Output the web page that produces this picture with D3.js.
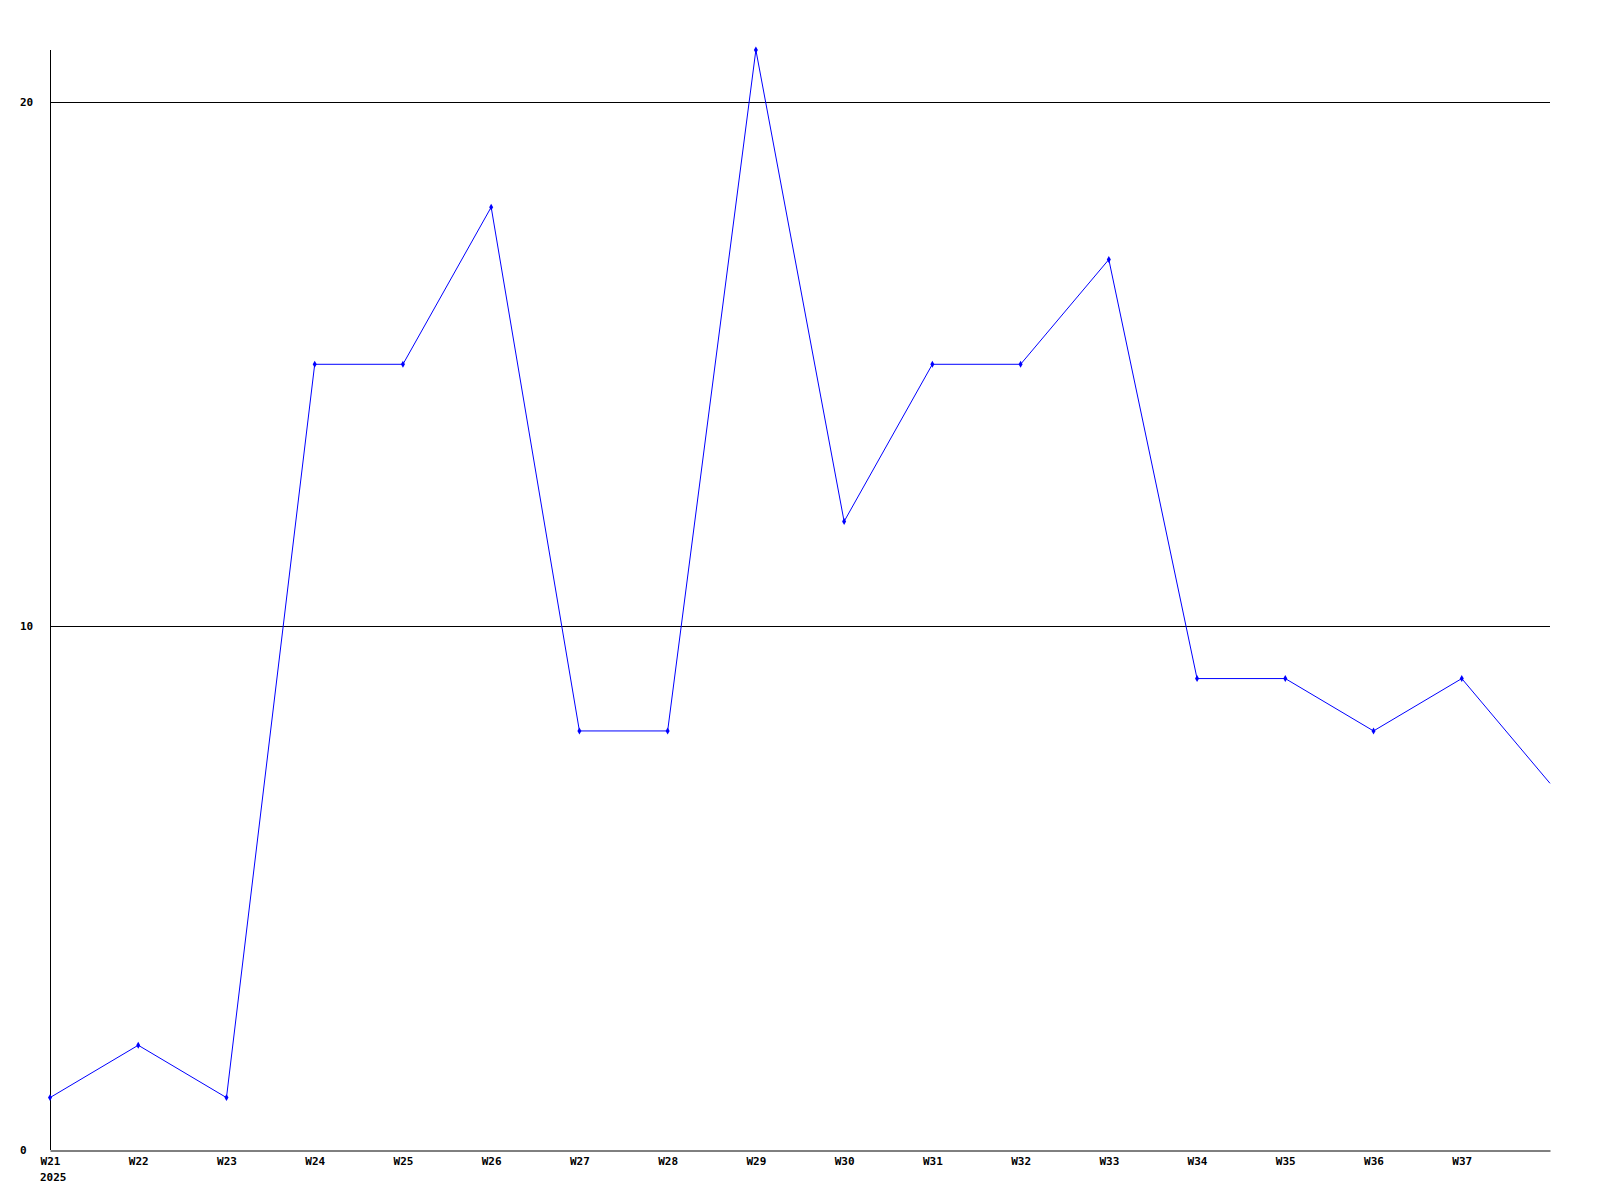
<!DOCTYPE html>
<html>
<head>
<meta charset="utf-8">
<script src="https://cdn.jsdelivr.net/npm/d3@7"></script>
<style>
body { margin: 0; background: #fff; }
text { font-family: "DejaVu Sans Mono", monospace; font-weight: bold; font-size: 11px; }
</style>
</head>
<body>
<script>
const width = 1600;
const height = 1200;
const margin = {top: 50, right: 50, bottom: 50, left: 50};

// weeks, W38 is drawn but not labelled
const weeks = ['W21', 'W22', 'W23', 'W24', 'W25', 'W26', 'W27', 'W28', 'W29',
  'W30', 'W31', 'W32', 'W33', 'W34', 'W35', 'W36', 'W37', 'W38'];
const labelledWeeks = weeks.slice(0, 17);
const values = [1, 2, 1, 15, 15, 18, 8, 8, 21, 12, 15, 15, 17, 9, 9, 8, 9, 7];
const yTicks = [0, 10, 20];
const yearLabel = '2025';

const data = weeks.map((w, i) => ({week: w, value: values[i]}));

const x = d3.scalePoint()
  .domain(weeks)
  .range([margin.left, width - margin.right]);

const y = d3.scaleLinear()
  .domain([0, 21])
  .range([height - margin.bottom, margin.top]);

const svg = d3.select('body').append('svg')
  .attr('width', width)
  .attr('height', height);

// grid lines
svg.append('g')
  .selectAll('line')
  .data(yTicks.filter(d => d > 0))
  .join('line')
    .attr('x1', margin.left)
    .attr('x2', width - margin.right)
    .attr('y1', d => Math.round(y(d)) + 0.5)
    .attr('y2', d => Math.round(y(d)) + 0.5)
    .attr('stroke', '#000');

// y labels, left aligned
svg.append('g')
  .selectAll('text')
  .data(yTicks)
  .join('text')
    .attr('x', 20)
    .attr('y', d => y(d))
    .attr('dy', '0.35em')
    .text(d => d);

// x axis
const xAxis = g => g
  .attr('transform', `translate(0,${Math.round(y(0)) + 0.5})`)
  .call(d3.axisBottom(x).tickValues(labelledWeeks).tickSize(0).tickPadding(7))
  .call(g => g.select('.domain').attr('stroke', '#000'))
  .call(g => g.selectAll('.tick text')
    .attr('font-size', null).attr('font-family', null).attr('fill', '#000'));

svg.append('g').call(xAxis).attr('font-size', null).attr('font-family', null);

svg.append('text')
  .attr('x', x(weeks[0]) - 10)
  .attr('y', y(0) + 27)
  .attr('dy', '0.35em')
  .text(yearLabel);

// left axis line
svg.append('line')
  .attr('x1', margin.left + 0.5)
  .attr('x2', margin.left + 0.5)
  .attr('y1', margin.top)
  .attr('y2', y(0))
  .attr('stroke', '#000');

const line = d3.line()
  .x(d => x(d.week))
  .y(d => y(d.value));

svg.append('path')
  .datum(data)
  .attr('fill', 'none')
  .attr('stroke', '#0000ff')
  .attr('stroke-width', 1)
  .attr('d', line);

svg.append('g')
  .selectAll('path')
  .data(data.slice(0, 17))
  .join('path')
    .attr('transform', d => `translate(${x(d.week)},${y(d.value)})`)
    .attr('d', d3.symbol(d3.symbolDiamond, 14))
    .attr('fill', '#0000ff');
</script>
</body>
</html>
